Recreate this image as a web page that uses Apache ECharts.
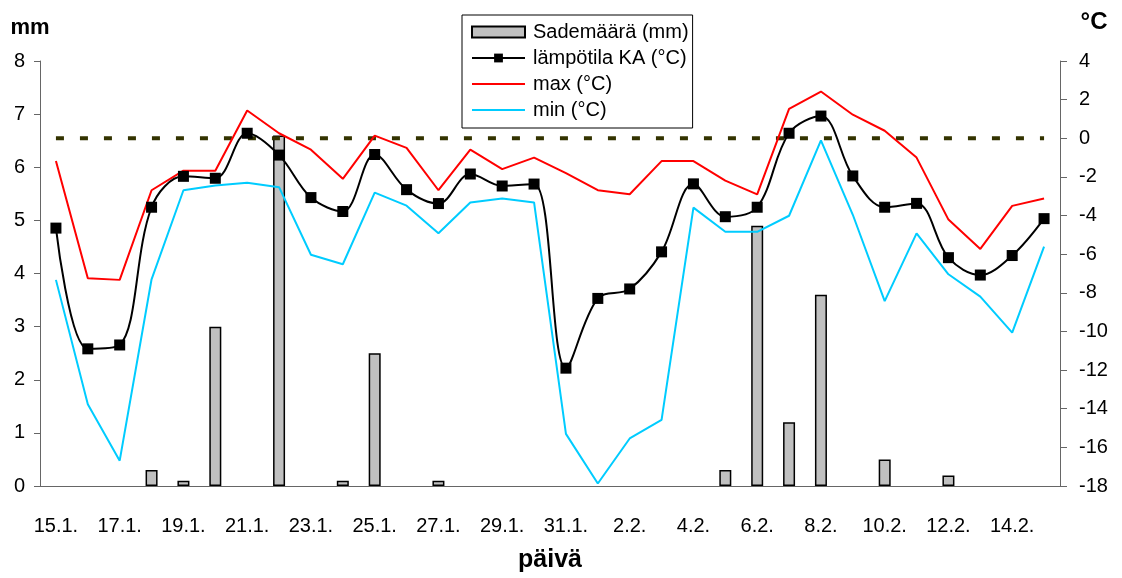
<!DOCTYPE html>
<html>
<head>
<meta charset="utf-8">
<script src="https://cdn.jsdelivr.net/npm/echarts@6/dist/echarts.min.js"></script>
<style>
  html, body { margin: 0; padding: 0; background: #fff; }
  #chart { width: 1122px; height: 578px; }
</style>
</head>
<body>
<div id="chart"></div>
<script>
// Daily precipitation (bars, left axis) and temperatures (lines, right axis)

const days = [
  '15.1.', '16.1.', '17.1.', '18.1.', '19.1.', '20.1.', '21.1.', '22.1.',
  '23.1.', '24.1.', '25.1.', '26.1.', '27.1.', '28.1.', '29.1.', '30.1.',
  '31.1.', '1.2.', '2.2.', '3.2.', '4.2.', '5.2.', '6.2.', '7.2.',
  '8.2.', '9.2.', '10.2.', '11.2.', '12.2.', '13.2.', '14.2.', '15.2.'
];

const rain = [
  null, null, null, 0.3, 0.1, 3.0, null, 6.6,
  null, 0.1, 2.5, null, 0.1, null, null, null,
  null, null, null, null, null, 0.3, 4.9, 1.2,
  3.6, null, 0.5, null, 0.2, null, null, null
];

const tempAvg = [
  -4.65, -10.9, -10.7, -3.57, -1.97, -2.07, 0.26, -0.87,
  -3.07, -3.79, -0.84, -2.66, -3.38, -1.85, -2.47, -2.37,
  -11.9, -8.29, -7.8, -5.88, -2.36, -4.06, -3.57, 0.26,
  1.15, -1.95, -3.57, -3.37, -6.18, -7.08, -6.07, -4.16
];

const tempMax = [
  -1.18, -7.25, -7.33, -2.69, -1.68, -1.68, 1.44, 0.26,
  -0.59, -2.1, 0.14, -0.5, -2.69, -0.59, -1.6, -1.0,
  -1.8, -2.69, -2.9, -1.18, -1.18, -2.19, -2.9, 1.52,
  2.42, 1.22, 0.39, -1.0, -4.21, -5.73, -3.5, -3.12
];

const tempMin = [
  -7.33, -13.77, -16.69, -7.3, -2.69, -2.44, -2.3, -2.53,
  -6.03, -6.52, -2.81, -3.49, -4.92, -3.32, -3.12, -3.32,
  -15.3, -17.87, -15.54, -14.58, -3.59, -4.84, -4.84, -4.01,
  -0.11, -3.96, -8.43, -4.92, -7.04, -8.2, -10.06, -5.61
];

const zeroLine = days.map(() => 0);

const FONT = '"Liberation Sans", Arial, sans-serif';
const AXIS_COLOR = '#666';
// plain line legend icon (53x11 box, 2px strip in the middle)
const LINE_ICON = 'path://M0,0L0,0M0,4.5L53,4.5L53,6.5L0,6.5ZM53,11L53,11';

const chart = echarts.init(document.getElementById('chart'), null, { renderer: 'canvas' });

chart.setOption({
  backgroundColor: '#fff',
  animation: false,
  textStyle: { fontFamily: FONT, color: '#000' },
  grid: { left: 40, right: 62, top: 61, bottom: 82 },
  legend: {
    orient: 'vertical',
    left: 462,
    top: 15,
    padding: [7, 4, 8, 9],
    itemGap: 6,
    itemWidth: 53,
    itemHeight: 11,
    backgroundColor: '#fff',
    borderColor: '#000',
    borderWidth: 1,
    textStyle: { fontFamily: FONT, fontSize: 20, color: '#000', padding: [0, 0, 0, 3] },
    data: [
      { name: 'Sademäärä (mm)', icon: 'rect' },
      { name: 'lämpötila KA (°C)' },
      { name: 'max (°C)', icon: LINE_ICON, itemStyle: { color: '#ff0000', borderWidth: 0 } },
      { name: 'min (°C)', icon: LINE_ICON, itemStyle: { color: '#00ccff', borderWidth: 0 } },
    ],
  },
  xAxis: {
    type: 'category',
    data: days,
    boundaryGap: true,
    name: 'päivä',
    nameLocation: 'middle',
    nameGap: 62,
    nameTextStyle: { fontFamily: FONT, fontSize: 25, fontWeight: 'bold', color: '#000' },
    axisLine: { lineStyle: { color: AXIS_COLOR, width: 1 } },
    axisTick: { interval: 0, length: 6, lineStyle: { color: AXIS_COLOR } },
    axisLabel: { interval: 1, fontSize: 20, color: '#000', margin: 30 },
    splitLine: { show: false },
  },
  yAxis: [
    {
      type: 'value',
      min: 0,
      max: 8,
      interval: 1,
      position: 'left',
      name: 'mm',
      nameLocation: 'end',
      nameGap: 22,
      nameTextStyle: { fontFamily: FONT, fontSize: 22, fontWeight: 'bold', color: '#000', padding: [0, 20, 0, 0] },
      axisLine: { show: true, lineStyle: { color: AXIS_COLOR, width: 1 } },
      axisTick: { show: true, length: 6, lineStyle: { color: AXIS_COLOR } },
      axisLabel: { fontSize: 20, color: '#000', margin: 15 },
      splitLine: { show: false },
    },
    {
      type: 'value',
      min: -18,
      max: 4,
      interval: 2,
      position: 'right',
      name: '°C',
      nameLocation: 'end',
      nameGap: 27,
      nameTextStyle: { fontFamily: FONT, fontSize: 24, fontWeight: 'bold', color: '#000', padding: [0, 0, 0, 68] },
      axisLine: { show: true, lineStyle: { color: AXIS_COLOR, width: 1 } },
      axisTick: { show: true, length: 7, lineStyle: { color: AXIS_COLOR } },
      axisLabel: { fontSize: 20, color: '#000', margin: 19 },
      splitLine: { show: false },
    },
  ],
  series: [
    {
      name: 'Sademäärä (mm)',
      type: 'bar',
      yAxisIndex: 0,
      data: rain,
      barWidth: 12,
      itemStyle: { color: '#c0c0c0', borderColor: '#000', borderWidth: 1.5 },
      z: 1,
    },
    {
      name: '0 °C',
      type: 'line',
      yAxisIndex: 1,
      data: zeroLine,
      symbol: 'none',
      lineStyle: { color: '#333300', width: 4, type: [8, 16] },
      silent: true,
      z: 2,
    },
    {
      name: 'max (°C)',
      type: 'line',
      yAxisIndex: 1,
      data: tempMax,
      symbol: 'none',
      lineStyle: { color: '#ff0000', width: 2 },
      itemStyle: { color: '#ff0000' },
      z: 3,
    },
    {
      name: 'min (°C)',
      type: 'line',
      yAxisIndex: 1,
      data: tempMin,
      symbol: 'none',
      lineStyle: { color: '#00ccff', width: 2 },
      itemStyle: { color: '#00ccff' },
      z: 3,
    },
    {
      name: 'lämpötila KA (°C)',
      type: 'line',
      yAxisIndex: 1,
      data: tempAvg,
      smooth: 0.35,
      symbol: 'rect',
      symbolSize: 11,
      lineStyle: { color: '#000', width: 2 },
      itemStyle: { color: '#000' },
      z: 4,
    },
  ],
});
</script>
</body>
</html>
